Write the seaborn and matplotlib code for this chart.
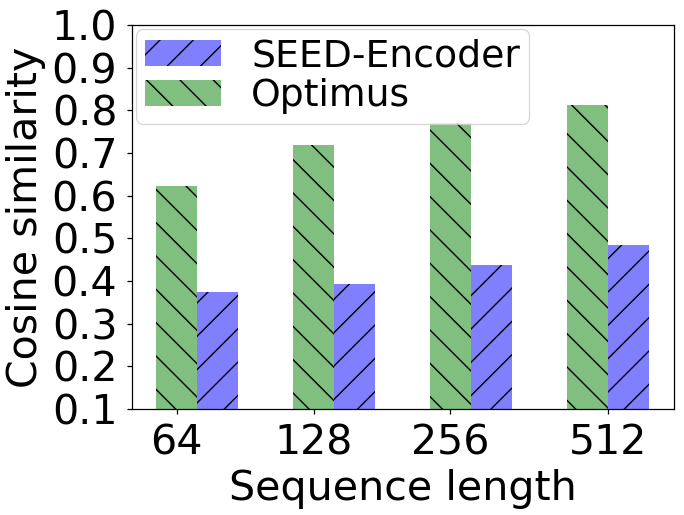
import numpy as np
import pandas as pd
import matplotlib
matplotlib.use("Agg")
import matplotlib.pyplot as plt
import seaborn as sns

# values
seq_lengths = ["64", "128", "256", "512"]
optimus = [0.622, 0.718, 0.770, 0.812]
seed_encoder = [0.374, 0.393, 0.437, 0.484]
models = ["Optimus", "SEED-Encoder"]
colors = {"Optimus": "#80bf80", "SEED-Encoder": "#8080ff"}
hatches = {"Optimus": "\\\\", "SEED-Encoder": "//"}

df = pd.DataFrame({
    "Sequence length": seq_lengths * 2,
    "Cosine similarity": optimus + seed_encoder,
    "model": ["Optimus"] * 4 + ["SEED-Encoder"] * 4,
})

plt.rcParams["font.family"] = ["DejaVu Sans"]
plt.rcParams["font.size"] = 14.8
plt.rcParams["hatch.linewidth"] = 0.5
plt.rcParams["axes.linewidth"] = 0.45
plt.rcParams["xtick.major.size"] = 1.8
plt.rcParams["ytick.major.size"] = 1.8
plt.rcParams["xtick.major.width"] = 0.45
plt.rcParams["ytick.major.width"] = 0.45

fig, ax = plt.subplots(figsize=(3.42, 2.575), dpi=200)
fig.subplots_adjust(left=0.193, right=0.985, bottom=0.206, top=0.951)

sns.barplot(data=df, x="Sequence length", y="Cosine similarity", hue="model",
            hue_order=models, order=seq_lengths, palette=colors,
            width=0.6, saturation=1, ax=ax, legend=False)

# hatch every bar of a series
for cont, m in zip(ax.containers, models):
    for p in cont:
        p.set_hatch(hatches[m])
        p.set_edgecolor("black")
        p.set_linewidth(0)

ax.set_ylim(0.1, 1.0)
ax.set_yticks(np.arange(0.1, 1.01, 0.1))
ax.set_yticklabels([f"{v:.1f}" for v in np.arange(0.1, 1.01, 0.1)])
ax.set_xlim(-0.475, 3.48)
ax.set_xticks([-0.15, 0.85, 1.85, 3.0])
ax.set_xticklabels(seq_lengths)
ax.set_xlabel("Sequence length", labelpad=2)
ax.set_ylabel("Cosine similarity", labelpad=2)

leg = ax.legend([ax.containers[1], ax.containers[0]], ["SEED-Encoder", "Optimus"],
                loc="upper left", fontsize=13.6, borderaxespad=0.1, borderpad=0.25,
                labelspacing=0.1, handletextpad=0.8)
leg.get_frame().set_linewidth(0.45)

fig.savefig("out.png", dpi=200)
